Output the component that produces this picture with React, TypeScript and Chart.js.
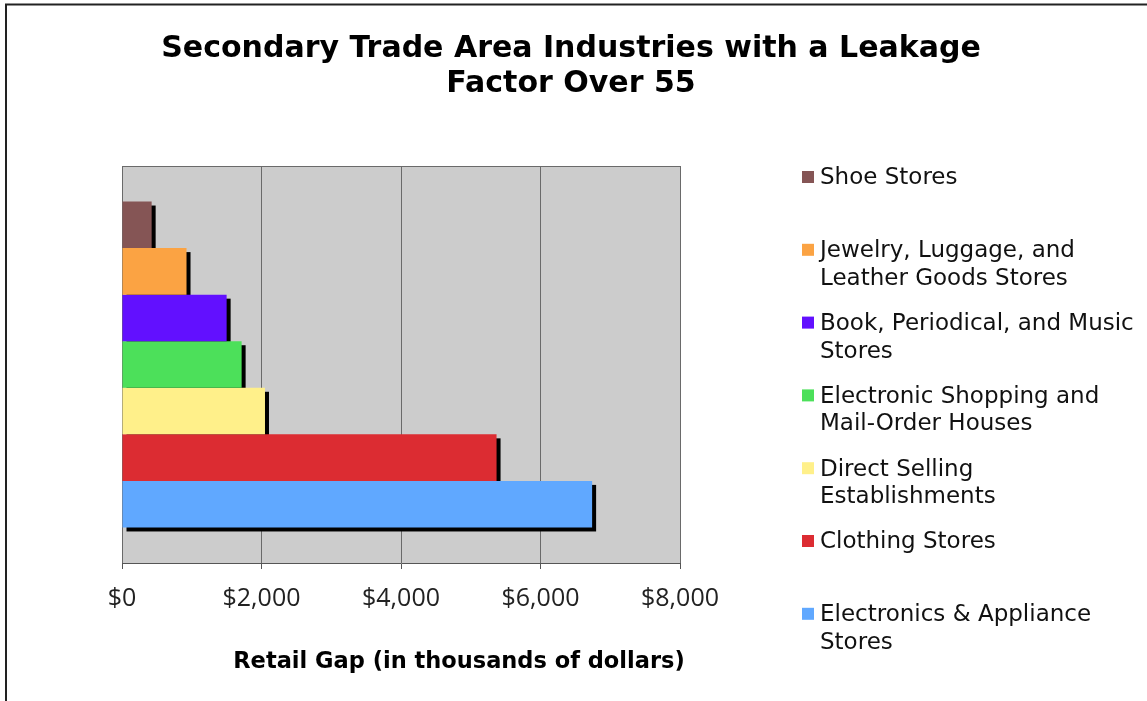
import React, { useEffect, useRef } from "react";
import { Chart, registerables } from "chart.js";

Chart.register(...registerables);

const categories = [""];
const seriesNames = [
  "Shoe Stores",
  "Jewelry, Luggage, and Leather Goods Stores",
  "Book, Periodical, and Music Stores",
  "Electronic Shopping and Mail-Order Houses",
  "Direct Selling Establishments",
  "Clothing Stores",
  "Electronics & Appliance Stores",
];
const legendLines = [
  ["Shoe Stores"],
  ["Jewelry, Luggage, and", "Leather Goods Stores"],
  ["Book, Periodical, and Music", "Stores"],
  ["Electronic Shopping and", "Mail-Order Houses"],
  ["Direct Selling", "Establishments"],
  ["Clothing Stores"],
  ["Electronics & Appliance", "Stores"],
];
const seriesValues = [425, 925, 1500, 1715, 2050, 5370, 6740];
const seriesColors = [
  "#855555",
  "#FBA343",
  "#6210FF",
  "#4CE05A",
  "#FFF08A",
  "#DC2C32",
  "#60A8FF",
];
const xTickValues = [0, 2000, 4000, 6000, 8000];
const titleLines = ["Secondary Trade Area Industries with a Leakage", "Factor Over 55"];
const xAxisTitle = "Retail Gap (in thousands of dollars)";

const W = 1147;
const H = 701;

const decorPlugin = {
  id: "decor",
  beforeDraw(chart: any) {
    const { ctx, chartArea } = chart;
    ctx.save();
    ctx.fillStyle = "#ffffff";
    ctx.fillRect(0, 0, W, H);
    ctx.strokeStyle = "#222222";
    ctx.lineWidth = 2;
    ctx.beginPath();
    ctx.moveTo(6, H);
    ctx.lineTo(6, 4.5);
    ctx.lineTo(W, 4.5);
    ctx.stroke();
    ctx.fillStyle = "#CCCCCC";
    ctx.fillRect(chartArea.left, chartArea.top, chartArea.right - chartArea.left, chartArea.bottom - chartArea.top);
    ctx.restore();
  },
  beforeDatasetsDraw(chart: any) {
    const { ctx } = chart;
    ctx.save();
    ctx.fillStyle = "#000000";
    chart.data.datasets.forEach((_: any, i: number) => {
      const meta = chart.getDatasetMeta(i);
      meta.data.forEach((el: any) => {
        const p = el.getProps(["x", "y", "base", "height"], true);
        const left = Math.min(p.base, p.x) + 4;
        const right = Math.max(p.base, p.x) + 4;
        const top = p.y - p.height / 2 + 4;
        ctx.fillRect(left, top, right - left, p.height);
      });
    });
    ctx.restore();
  },
  afterDraw(chart: any) {
    const { ctx, chartArea } = chart;
    ctx.save();
    ctx.strokeStyle = "#6a6a6a";
    ctx.lineWidth = 1;
    ctx.beginPath();
    ctx.moveTo(chartArea.left, chartArea.top + 0.5);
    ctx.lineTo(chartArea.right, chartArea.top + 0.5);
    ctx.stroke();

    ctx.fillStyle = "#000000";
    ctx.textAlign = "center";
    ctx.textBaseline = "middle";
    ctx.font = "bold 30px 'DejaVu Sans'";
    ctx.fillText(titleLines[0], 571, 49);
    ctx.fillText(titleLines[1], 571, 84);

    ctx.font = "bold 22.5px 'DejaVu Sans'";
    ctx.fillText(xAxisTitle, 459, 662);

    ctx.textAlign = "left";
    ctx.font = "23px 'DejaVu Sans'";
    legendLines.forEach((lines, i) => {
      const y0 = 177 + i * 72.8;
      ctx.fillStyle = seriesColors[i];
      ctx.fillRect(802, y0 - 6, 12, 12);
      ctx.fillStyle = "#111111";
      lines.forEach((ln, j) => {
        ctx.fillText(ln, 820, y0 + 1.5 + j * 27.5);
      });
    });
    ctx.restore();
  },
};

export default function App() {
  const ref = useRef<HTMLCanvasElement | null>(null);
  useEffect(() => {
    if (!ref.current) return;
    const chart = new Chart(ref.current, {
      type: "bar",
      data: {
        labels: categories,
        datasets: seriesNames.map((name, i) => ({
          label: name,
          data: [seriesValues[i]],
          backgroundColor: seriesColors[i],
          borderWidth: 0,
          categoryPercentage: 0.821,
          barPercentage: 1.0,
        })),
      },
      options: {
        indexAxis: "y",
        responsive: false,
        animation: false,
        devicePixelRatio: 1,
        layout: { padding: { left: 122, top: 166, right: W - 680, bottom: 0 } },
        plugins: {
          legend: { display: false },
          tooltip: { enabled: false },
          title: { display: false },
        },
        scales: {
          x: {
            type: "linear",
            min: 0,
            max: 8000,
            afterBuildTicks: (scale: any) => {
              scale.ticks = xTickValues.map((v) => ({ value: v }));
            },
            afterFit: (scale: any) => {
              scale.height = H - 563;
            },
            grid: {
              color: "#6a6a6a",
              lineWidth: 1,
              tickLength: 6,
              tickColor: "#555555",
              drawOnChartArea: true,
            },
            border: { color: "#555555", width: 1 },
            ticks: {
              padding: 15,
              color: "#222222",
              font: { family: "'Open Sans'", size: 25 },
              maxRotation: 0,
              autoSkip: false,
              callback: (v: any) => "$" + Number(v).toLocaleString("en-US"),
            },
          },
          y: {
            display: false,
          },
        },
      },
      plugins: [decorPlugin],
    } as any);
    return () => chart.destroy();
  }, []);
  return (
    <div style={{ position: "fixed", left: 0, top: 0, width: W, height: H, background: "#fff" }}>
      <canvas ref={ref} width={W} height={H} style={{ display: "block", width: W, height: H }} />
    </div>
  );
}
